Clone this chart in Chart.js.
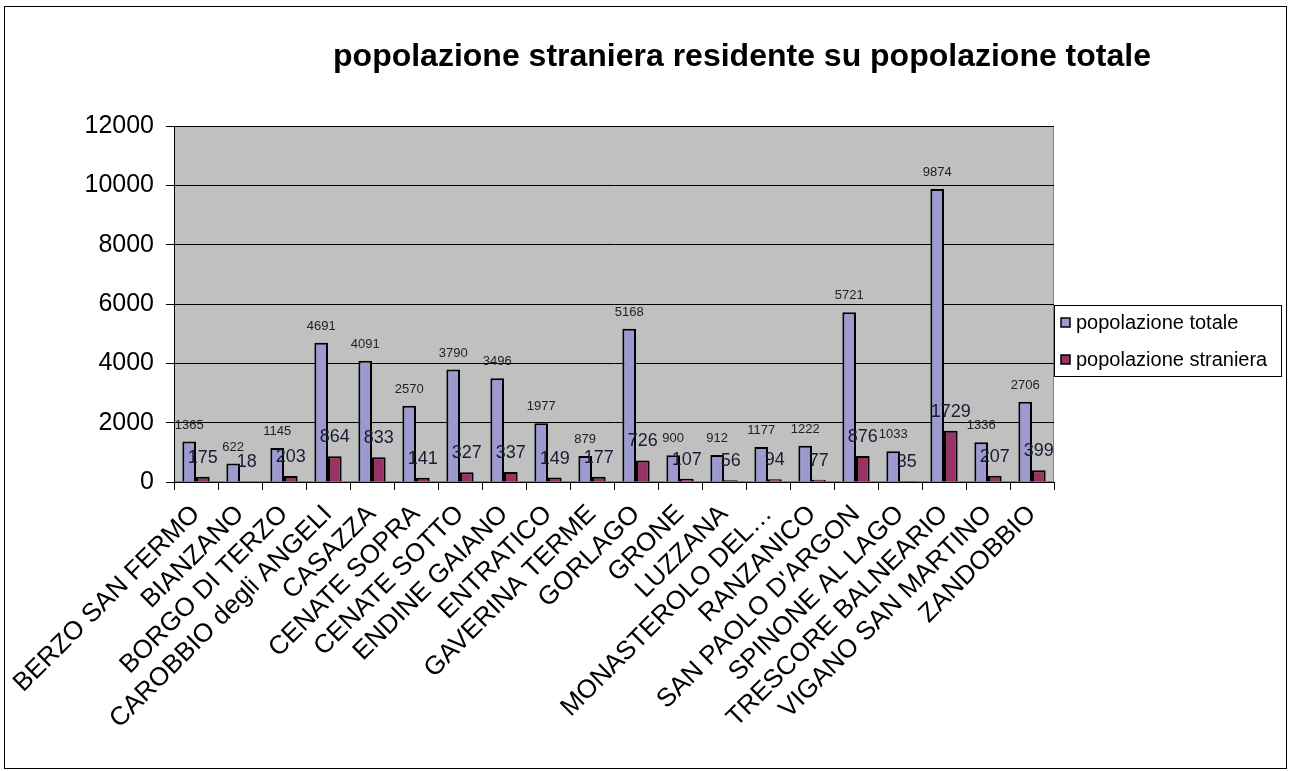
<!DOCTYPE html>
<html>
<head>
<meta charset="utf-8">
<title>popolazione straniera residente su popolazione totale</title>
<script src="https://cdn.jsdelivr.net/npm/chart.js@4.4.1/dist/chart.umd.min.js"></script>
<style>
  html, body { margin: 0; padding: 0; background: #fff; }
  #wrap { position: relative; width: 1289px; height: 771px; }
</style>
</head>
<body>
<div id="wrap"><canvas id="popChart" width="1289" height="771"></canvas></div>
<script>
const comuni = [
  "BERZO SAN FERMO", "BIANZANO", "BORGO DI TERZO", "CAROBBIO degli ANGELI",
  "CASAZZA", "CENATE SOPRA", "CENATE SOTTO", "ENDINE GAIANO", "ENTRATICO",
  "GAVERINA TERME", "GORLAGO", "GRONE", "LUZZANA", "MONASTEROLO DEL…",
  "RANZANICO", "SAN PAOLO D'ARGON", "SPINONE AL LAGO", "TRESCORE BALNEARIO",
  "VIGANO SAN MARTINO", "ZANDOBBIO"
];
const popTotale = [1365, 622, 1145, 4691, 4091, 2570, 3790, 3496, 1977, 879,
                   5168, 900, 912, 1177, 1222, 5721, 1033, 9874, 1336, 2706];
const popStraniera = [175, 18, 203, 864, 833, 141, 327, 337, 149, 177,
                      726, 107, 56, 94, 77, 876, 35, 1729, 207, 399];
const yMin = 0, yMax = 12000, yStep = 2000;

const titolo = "popolazione straniera residente su popolazione totale";
const FONT = "'Liberation Sans', Arial, sans-serif";

// grey plot area with a thin border
const plotBackground = {
  id: 'plotBackground',
  beforeDraw(chart) {
    const { ctx, chartArea: a } = chart;
    ctx.save();
    ctx.fillStyle = '#c0c0c0';
    ctx.fillRect(a.left, a.top, a.right - a.left, a.bottom - a.top);
    ctx.strokeStyle = '#808080';
    ctx.lineWidth = 1;
    ctx.strokeRect(a.left + 0.5, a.top + 0.5, a.right - a.left - 1, a.bottom - a.top - 1);
    ctx.restore();
  }
};

// value written above each bar
const valueLabels = {
  id: 'valueLabels',
  afterDatasetsDraw(chart) {
    const { ctx } = chart;
    const sizes = [13, 18];
    ctx.save();
    ctx.textAlign = 'center';
    ctx.textBaseline = 'bottom';
    chart.data.datasets.forEach((ds, i) => {
      const meta = chart.getDatasetMeta(i);
      ctx.font = sizes[i] + 'px ' + FONT;
      ctx.fillStyle = i === 0 ? '#222' : '#1a1a33';
      meta.data.forEach((bar, j) => {
        ctx.fillText(String(ds.data[j]), bar.x, bar.y - 10);
      });
    });
    ctx.restore();
  }
};

// title, legend box and outer frame
const decorations = {
  id: 'decorations',
  afterDraw(chart) {
    const { ctx, chartArea: a } = chart;
    ctx.save();
    ctx.strokeStyle = '#000';
    ctx.lineWidth = 1;
    ctx.strokeRect(4.5, 6.5, 1282, 762);

    ctx.fillStyle = '#000';
    ctx.font = 'bold 32px ' + FONT;
    ctx.textAlign = 'center';
    ctx.textBaseline = 'middle';
    ctx.fillText(titolo, 742, 57);

    const lx = a.right, ly = 305, lw = 227, lh = 71;
    ctx.fillStyle = '#fff';
    ctx.fillRect(lx, ly, lw, lh);
    ctx.strokeStyle = '#000';
    ctx.strokeRect(lx + 0.5, ly + 0.5, lw, lh);
    ctx.font = '20px ' + FONT;
    ctx.textAlign = 'left';
    chart.data.datasets.forEach((ds, i) => {
      const cy = ly + 18 + i * 37;
      ctx.fillStyle = ds.backgroundColor;
      ctx.fillRect(lx + 7, cy - 5, 9, 9);
      ctx.strokeStyle = '#000';
      ctx.lineWidth = 1.5;
      ctx.strokeRect(lx + 7, cy - 5, 9, 9);
      ctx.fillStyle = '#000';
      ctx.fillText(ds.label, lx + 22, cy);
    });
    ctx.restore();
  }
};

new Chart(document.getElementById('popChart'), {
  type: 'bar',
  data: {
    labels: comuni,
    datasets: [
      {
        label: 'popolazione totale',
        data: popTotale,
        backgroundColor: '#9c9ad0',
        borderColor: '#000',
        borderWidth: 2
      },
      {
        label: 'popolazione straniera',
        data: popStraniera,
        backgroundColor: '#993366',
        borderColor: '#000',
        borderWidth: 2
      }
    ]
  },
  options: {
    responsive: false,
    animation: false,
    layout: { padding: { top: 126, left: 0, right: 235, bottom: 0 } },
    datasets: { bar: { categoryPercentage: 0.62, barPercentage: 1 } },
    plugins: {
      legend: { display: false },
      title: { display: false },
      tooltip: { enabled: false }
    },
    scales: {
      x: {
        afterFit(scale) { scale.height = 289; },
        grid: { offset: true, drawOnChartArea: false, color: '#000', tickLength: 8 },
        border: { color: '#000', width: 1 },
        ticks: {
          autoSkip: false, maxRotation: 45, minRotation: 45,
          color: '#000', padding: 9,
          font: { family: FONT, size: 26 }
        }
      },
      y: {
        min: yMin, max: yMax,
        afterFit(scale) { scale.width = 174; },
        grid: { color: '#000', lineWidth: 1, tickLength: 8 },
        border: { color: '#000', width: 1 },
        ticks: {
          stepSize: yStep, color: '#000', padding: 12,
          font: { family: FONT, size: 25 },
          callback: function (value) { return String(value); }
        }
      }
    }
  },
  plugins: [plotBackground, valueLabels, decorations]
});
</script>
</body>
</html>
